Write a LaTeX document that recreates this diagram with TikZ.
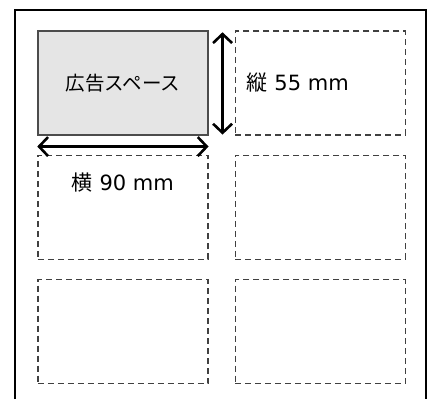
\documentclass[tikz,border=0pt]{standalone}
\usepackage{fontspec}
\setmainfont{DejaVu Sans}
\newfontfamily\jp{Noto Sans CJK JP}
\usetikzlibrary{matrix,arrows.meta}

\begin{document}
\begin{tikzpicture}[x=1pt, y=1pt,
    slot/.style={draw=black!75, dash pattern=on 6pt off 4pt, line width=1.4pt,
      minimum width=170pt, minimum height=104pt, inner sep=0pt, anchor=center},
    adbox/.style={solid, fill=black!10, draw=black!70, line width=1.3pt,
      font=\jp\fontsize{19.5}{21}\selectfont},
    dim/.style={line width=2.6pt,
      {Straight Barb[length=9pt,width=19pt]}-{Straight Barb[length=9pt,width=19pt]}},
    lbl/.style={font=\fontsize{21}{24}\selectfont, inner sep=0pt} ]
    \useasboundingbox (0,0) rectangle (428,-399);
    % sheet edge
    \draw[line width=2pt] (15,-399) |- (426,-10) -- (426,-399);
    \matrix (m) [
      matrix of nodes
      , nodes in empty cells
      , anchor=north west
      , inner sep=0pt
      , row sep=19pt
      , column sep=26pt
      , nodes={slot}
      ] at (37,-30)
    {
      |[adbox]| 広告スペース & \\
      & \\
      & \\
    };
      \path[dim]
      ([yshift=-11pt]m-1-1.south west) edge ([yshift=-11pt]m-1-1.south east)
      ([xshift=14pt,yshift=-2pt]m-1-1.north east) edge ([xshift=14pt,yshift=1pt]m-1-1.south east)
      ;
      \node[lbl, anchor=west] (vlen) at ([xshift=12pt]m-1-2.west) {{\jp 縦} 55 mm};
      \node[lbl] (hlen) at ([yshift=-28pt]m-2-1.north) {{\jp 横} 90 mm};
    \end{tikzpicture}
\end{document}
